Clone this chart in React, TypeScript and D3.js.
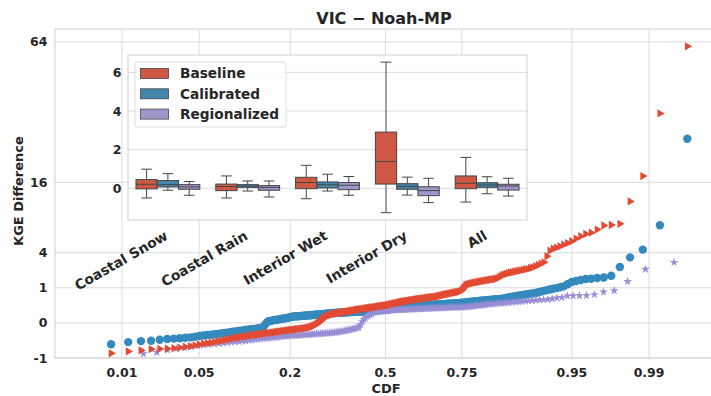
import React from "react";
import * as d3 from "d3";

// ---------- data ----------
const title = "VIC − Noah-MP";
const seriesNames = ["Baseline", "Calibrated", "Regionalized"];
const seriesColors = ["#E24A33", "#348ABD", "#988ED5"];
const boxColors = ["#cf5844", "#4586ac", "#9e97cc"];

const categories = ["Coastal Snow", "Coastal Rain", "Interior Wet", "Interior Dry", "All"];
// [whiskerLow, q1, median, q3, whiskerHigh] per category
const baselineBox = [
  [-0.5, -0.03, 0.21, 0.45, 0.99],
  [-0.5, -0.12, 0.09, 0.22, 0.64],
  [-0.54, -0.02, 0.3, 0.57, 1.19],
  [-1.26, 0.22, 1.39, 2.91, 6.53],
  [-0.71, -0.02, 0.26, 0.64, 1.6],
];
const calibratedBox = [
  [-0.1, 0.07, 0.19, 0.4, 0.76],
  [-0.14, 0.05, 0.12, 0.19, 0.38],
  [-0.14, 0.02, 0.19, 0.33, 0.73],
  [-0.35, -0.05, 0.1, 0.24, 0.58],
  [-0.28, 0.05, 0.17, 0.29, 0.6],
];
const regionalizedBox = [
  [-0.36, -0.05, 0.07, 0.19, 0.35],
  [-0.45, -0.1, 0.05, 0.14, 0.38],
  [-0.36, -0.07, 0.16, 0.3, 0.61],
  [-0.74, -0.38, -0.12, 0.08, 0.52],
  [-0.4, -0.09, 0.12, 0.21, 0.52],
];
const insetTicks = [0, 2, 4, 6];

// sorted KGE differences (empirical CDF)
const baselineValues = [
  -1.8,
  -0.75, -0.66, -0.61, -0.56, -0.55, -0.535, -0.52, -0.5, -0.47, -0.44, -0.41, -0.38,
  -0.35, -0.33, -0.32, -0.295, -0.276, -0.26, -0.24, -0.225, -0.21, -0.195,
  -0.184, -0.174, -0.165, -0.155, -0.147, -0.138, -0.13, -0.123, -0.118, -0.112, -0.106, -0.1, -0.095,
  -0.092, -0.088, -0.083, -0.08, -0.075, -0.072, -0.068, -0.065, -0.06, -0.058, -0.055, -0.051, -0.048, -0.046, -0.044, -0.041, -0.04,
  -0.038, -0.036, -0.033, -0.031, -0.029, -0.027, -0.026, -0.024, -0.022, -0.02, -0.018, -0.016, -0.013, -0.01, -0.007, -0.004,
  -0.002, -0.0002, 0.0002, 0.002, 0.007, 0.013, 0.02, 0.027, 0.034, 0.04, 0.046, 0.051, 0.056, 0.062, 0.066, 0.071,
  0.074, 0.077, 0.08, 0.083, 0.085, 0.088,
  0.091, 0.095, 0.099, 0.103, 0.107, 0.111, 0.115, 0.119, 0.123, 0.127,
  0.131, 0.135, 0.139, 0.143, 0.147, 0.151, 0.155, 0.159, 0.163, 0.167,
  0.171, 0.175, 0.179, 0.183, 0.187, 0.191, 0.195, 0.199, 0.203, 0.207,
  0.212, 0.217, 0.222, 0.227, 0.232, 0.237, 0.241, 0.246, 0.25,
  0.257, 0.265, 0.272, 0.28, 0.287, 0.295, 0.302, 0.31, 0.317, 0.325, 0.332, 0.34, 0.347, 0.355, 0.362, 0.37,
  0.377, 0.384, 0.39, 0.397, 0.404, 0.41, 0.417, 0.424, 0.43, 0.437,
  0.444, 0.451, 0.457, 0.464, 0.471, 0.477, 0.484, 0.491, 0.497, 0.504,
  0.511, 0.518, 0.524, 0.531, 0.538, 0.544, 0.551, 0.558, 0.565,
  0.578, 0.591, 0.604, 0.617, 0.63, 0.643, 0.656, 0.669, 0.682, 0.695, 0.708, 0.721, 0.734, 0.747, 0.76, 0.773, 0.786, 0.8,
  0.86, 0.95, 1.05, 1.15,
  1.19, 1.22, 1.25, 1.27, 1.29, 1.31, 1.33,
  1.35, 1.37, 1.39, 1.41, 1.43, 1.45, 1.47, 1.49, 1.51, 1.53, 1.545, 1.56,
  1.6, 1.68, 1.76, 1.84, 1.9, 1.95, 2.0,
  2.04, 2.08, 2.12, 2.16, 2.2, 2.24, 2.28, 2.32, 2.36, 2.44,
  2.5, 2.6, 2.72, 2.85, 2.97,
  3.6,
  4.23, 4.47, 4.59, 4.75, 4.97, 5.16, 5.4, 5.76, 6.08, 6.42, 6.6,
  7.06, 7.68, 7.76, 7.95, 11.95, 17.47, 35.56, 62.0,
];
const calibratedValues = [
  -1.8, -0.37, -0.3, -0.27, -0.26, -0.23, -0.21, -0.2, -0.19, -0.18, -0.17, -0.155, -0.14,
  -0.13, -0.12, -0.115, -0.106, -0.099, -0.09, -0.083, -0.077, -0.07, -0.062,
  -0.058, -0.054, -0.05, -0.046, -0.042, -0.039, -0.036, -0.032, -0.029, -0.027, -0.024, -0.02, -0.018,
  -0.005, 0, 0.002, 0.003, 0.004, 0.006, 0.007, 0.008, 0.01, 0.012, 0.014, 0.016, 0.018, 0.02, 0.024, 0.027, 0.031,
  0.033, 0.034, 0.035, 0.036, 0.037, 0.039, 0.04, 0.041, 0.043, 0.044,
  0.045, 0.047, 0.048, 0.05, 0.051, 0.053, 0.054, 0.056, 0.057, 0.059,
  0.061, 0.062, 0.064, 0.066, 0.067, 0.069, 0.071, 0.073, 0.075, 0.077,
  0.078, 0.08, 0.081, 0.082, 0.083, 0.084, 0.085, 0.087, 0.088, 0.089,
  0.09, 0.091, 0.093, 0.094, 0.095, 0.096, 0.097, 0.099, 0.1, 0.101, 0.102, 0.103, 0.104,
  0.105, 0.107, 0.108, 0.11, 0.111, 0.113, 0.114, 0.116, 0.117, 0.119, 0.12, 0.122,
  0.123, 0.125, 0.126, 0.128, 0.129, 0.131, 0.132, 0.134, 0.135, 0.137, 0.138, 0.14,
  0.144, 0.148, 0.152, 0.156, 0.16, 0.164, 0.168, 0.172, 0.176, 0.18, 0.184, 0.188, 0.192, 0.196, 0.2,
  0.202, 0.205, 0.207, 0.21, 0.212, 0.215, 0.217, 0.22, 0.222, 0.225,
  0.227, 0.229, 0.232, 0.234, 0.237, 0.239, 0.242, 0.244, 0.247, 0.249,
  0.252, 0.254, 0.257, 0.259, 0.261, 0.264, 0.266, 0.269, 0.271, 0.274,
  0.276, 0.279, 0.281, 0.284, 0.286, 0.288, 0.291, 0.293, 0.296, 0.298,
  0.301, 0.303, 0.306, 0.308, 0.311, 0.313, 0.315, 0.318, 0.32,
  0.326, 0.331, 0.337, 0.343, 0.349, 0.355, 0.36, 0.366, 0.372, 0.378,
  0.384, 0.389, 0.395, 0.401, 0.407, 0.412, 0.418, 0.424, 0.43, 0.436,
  0.441, 0.447, 0.453, 0.459, 0.464, 0.47,
  0.487, 0.503, 0.52, 0.537, 0.553, 0.57, 0.587, 0.603, 0.62, 0.637, 0.653, 0.67, 0.687, 0.703, 0.72,
  0.757, 0.794, 0.831, 0.868, 0.905, 0.942, 0.98,
  1.03, 1.08, 1.21, 1.35, 1.42, 1.49, 1.56, 1.58, 1.63, 1.67, 1.8, 2.53, 3.48, 4.35, 7.73, 27.5,
];
const regionalizedValues = [
  -1.9, -1.7,
  -0.77, -0.71, -0.6, -0.54, -0.49, -0.46, -0.42, -0.395,
  -0.38, -0.36, -0.343, -0.327, -0.31,
  -0.3, -0.29, -0.28, -0.267, -0.256,
  -0.245, -0.236, -0.225, -0.214, -0.204,
  -0.196, -0.189, -0.184, -0.176, -0.169, -0.165, -0.158, -0.151, -0.144, -0.138,
  -0.135, -0.132, -0.13, -0.127, -0.124, -0.122, -0.119, -0.116, -0.114, -0.111,
  -0.108, -0.106, -0.103, -0.101, -0.098, -0.096, -0.093, -0.091, -0.089, -0.086,
  -0.084, -0.082, -0.079, -0.077, -0.075,
  -0.071, -0.067, -0.063, -0.059, -0.055, -0.051, -0.047, -0.043, -0.039, -0.035, -0.031, -0.027, -0.023, -0.02, -0.017,
  -0.003, 0.001, 0.01, 0.02, 0.034, 0.046, 0.052, 0.066, 0.082, 0.099, 0.104,
  0.108, 0.11, 0.112, 0.115, 0.118, 0.12, 0.122, 0.125, 0.128, 0.13, 0.133, 0.135, 0.137, 0.139,
  0.141, 0.142, 0.144, 0.146, 0.147, 0.149, 0.151, 0.152, 0.154, 0.156,
  0.157, 0.159, 0.161, 0.162, 0.164, 0.166, 0.167, 0.169, 0.171, 0.172,
  0.174, 0.176, 0.177, 0.179, 0.181, 0.182, 0.184, 0.186, 0.187, 0.189,
  0.191, 0.192, 0.194, 0.196, 0.197, 0.199, 0.2, 0.202, 0.203, 0.205,
  0.212, 0.219, 0.226, 0.233, 0.24, 0.247, 0.253, 0.26, 0.267, 0.274,
  0.281, 0.288, 0.295, 0.302, 0.308, 0.315, 0.322, 0.329, 0.336, 0.343,
  0.354, 0.364, 0.375, 0.386, 0.397, 0.407, 0.418, 0.429, 0.44, 0.45,
  0.47, 0.5, 0.52, 0.59, 0.595, 0.6, 0.61, 0.65, 0.77, 0.84, 1.393, 2.33, 2.97,
];

const xTicks = [0.01, 0.05, 0.2, 0.5, 0.75, 0.95, 0.99];
const yTicks = [-1, 0, 1, 4, 16, 64];

// ---------- helpers ----------
function probit(p: number): number {
  const a = [-3.969683028665376e1, 2.209460984245205e2, -2.759285104469687e2, 1.38357751867269e2, -3.066479806614716e1, 2.506628277459239];
  const b = [-5.447609879822406e1, 1.615858368580409e2, -1.556989798598866e2, 6.680131188771972e1, -1.328068155288572e1];
  const c = [-7.784894002430293e-3, -3.223964580411365e-1, -2.400758277161838, -2.549732539343734, 4.374664621516628, 2.938163982698783];
  const d = [7.784695709041462e-3, 3.224671290700398e-1, 2.445134137142996, 3.754408661907416];
  const pl = 0.02425;
  if (p < pl) {
    const q = Math.sqrt(-2 * Math.log(p));
    return (((((c[0] * q + c[1]) * q + c[2]) * q + c[3]) * q + c[4]) * q + c[5]) / ((((d[0] * q + d[1]) * q + d[2]) * q + d[3]) * q + 1);
  }
  if (p <= 1 - pl) {
    const q = p - 0.5, r = q * q;
    return ((((((a[0] * r + a[1]) * r + a[2]) * r + a[3]) * r + a[4]) * r + a[5]) * q) / (((((b[0] * r + b[1]) * r + b[2]) * r + b[3]) * r + b[4]) * r + 1);
  }
  const q = Math.sqrt(-2 * Math.log(1 - p));
  return -(((((c[0] * q + c[1]) * q + c[2]) * q + c[3]) * q + c[4]) * q + c[5]) / ((((d[0] * q + d[1]) * q + d[2]) * q + d[3]) * q + 1);
}

const W = 711, H = 396;
const P = { left: 55, right: 716, top: 29, bottom: 358 };
const IN = { left: 128, right: 527, top: 55, bottom: 220 };
const FONT = "DejaVu Sans, sans-serif";
const TXT = "#262626";
const GRID = "#dcdcdc";
const EDGE = "#cfcfcf";

const zScale = d3.scaleLinear().domain([-2.917, 2.917]).range([P.left, P.right]);
const x = (p: number) => zScale(probit(p));
const y = d3.scalePow().exponent(0.5).domain([-1, 70]).range([P.bottom, P.top]);

const iy = d3.scaleLinear().domain([-1.64, 6.9]).range([IN.bottom, IN.top]);
const ix = d3.scaleBand().domain(categories).range([IN.left, IN.right]).padding(0);

const triPath = d3.symbol(d3.symbolTriangle, 30)() as string;
const starPath = d3.symbol(d3.symbolStar, 24)() as string;

export default function App() {
  const series = [
    { values: calibratedValues, color: seriesColors[1], kind: "circle" },
    { values: regionalizedValues, color: seriesColors[2], kind: "star" },
    { values: baselineValues, color: seriesColors[0], kind: "tri" },
  ];
  const boxes = [baselineBox, calibratedBox, regionalizedBox];
  const bw = ix.bandwidth();
  const boxW = (bw * 0.8) / 3;

  return (
    <svg width={W} height={H} style={{ position: "absolute", left: 0, top: 0, background: "#fff" }} fontFamily={FONT}>
      <defs>
        <clipPath id="plotclip">
          <rect x={P.left} y={P.top} width={P.right - P.left} height={P.bottom - P.top} />
        </clipPath>
      </defs>
      <rect x={0} y={0} width={W} height={H} fill="#fff" />
      {/* grid */}
      {yTicks.map((t) => (
        <line key={"gy" + t} x1={P.left} x2={P.right} y1={y(t)} y2={y(t)} stroke={GRID} strokeWidth={1} />
      ))}
      {xTicks.map((t) => (
        <line key={"gx" + t} x1={x(t)} x2={x(t)} y1={P.top} y2={P.bottom} stroke={GRID} strokeWidth={1} />
      ))}
      <rect x={P.left} y={P.top} width={P.right - P.left} height={P.bottom - P.top} fill="none" stroke={EDGE} strokeWidth={1} />

      {/* scatter */}
      <g clipPath="url(#plotclip)">
        {series.map((s, si) => {
          const n = s.values.length;
          return (
            <g key={si} fill={s.color}>
              {s.values.map((v, i) => {
                const px = x((i + 1) / (n + 1));
                const py = y(v);
                if (s.kind === "circle") return <circle key={i} cx={px} cy={py} r={4.2} />;
                if (s.kind === "star") return <path key={i} d={starPath} transform={`translate(${px},${py})`} />;
                return <path key={i} d={triPath} transform={`translate(${px},${py}) rotate(90)`} />;
              })}
            </g>
          );
        })}
      </g>

      {/* main axis labels */}
      {yTicks.map((t) => (
        <text key={"yt" + t} x={47.5} y={y(t)} dy="0.36em" textAnchor="end" fontSize={12.5} fontWeight="bold" fill={TXT}>
          {t}
        </text>
      ))}
      {xTicks.map((t) => (
        <text key={"xt" + t} x={x(t)} y={376.5} textAnchor="middle" fontSize={12.5} fontWeight="bold" fill={TXT}>
          {t}
        </text>
      ))}
      <text x={384} y={24} textAnchor="middle" fontSize={16} fontWeight="bold" fill={TXT}>
        {title}
      </text>
      <text transform={`translate(22.5,191) rotate(-90)`} textAnchor="middle" fontSize={13} fontWeight="bold" fill={TXT}>
        KGE Difference
      </text>
      <text x={386} y={393} textAnchor="middle" fontSize={13} fontWeight="bold" fill={TXT}>
        CDF
      </text>

      {/* inset */}
      <rect x={IN.left} y={IN.top} width={IN.right - IN.left} height={IN.bottom - IN.top} fill="#fff" />
      {insetTicks.map((t) => (
        <line key={"igy" + t} x1={IN.left} x2={IN.right} y1={iy(t)} y2={iy(t)} stroke={GRID} strokeWidth={1} />
      ))}
      <rect x={IN.left} y={IN.top} width={IN.right - IN.left} height={IN.bottom - IN.top} fill="none" stroke={EDGE} strokeWidth={1} />
      {insetTicks.map((t) => (
        <text key={"iyt" + t} x={121.5} y={iy(t)} dy="0.36em" textAnchor="end" fontSize={12.5} fontWeight="bold" fill={TXT}>
          {t}
        </text>
      ))}
      {categories.map((c, ci) => {
        const cx = (ix(c) as number) + bw / 2;
        return (
          <g key={c}>
            {boxes.map((b, si) => {
              const [lo, q1, med, q3, hi] = b[ci];
              const bx = cx + (si - 1) * boxW;
              const capW = boxW / 2;
              const stroke = "#454545";
              return (
                <g key={si} stroke={stroke} strokeWidth={1}>
                  <line x1={bx} x2={bx} y1={iy(hi)} y2={iy(q3)} />
                  <line x1={bx} x2={bx} y1={iy(q1)} y2={iy(lo)} />
                  <line x1={bx - capW / 2} x2={bx + capW / 2} y1={iy(hi)} y2={iy(hi)} />
                  <line x1={bx - capW / 2} x2={bx + capW / 2} y1={iy(lo)} y2={iy(lo)} />
                  <rect x={bx - boxW / 2} y={iy(q3)} width={boxW} height={iy(q1) - iy(q3)} fill={boxColors[si]} />
                  <line x1={bx - boxW / 2} x2={bx + boxW / 2} y1={iy(med)} y2={iy(med)} />
                </g>
              );
            })}
            <text
              transform={`translate(${cx + 1},238.5) rotate(-30)`}
              textAnchor="end"
              fontSize={13.8}
              fontWeight="bold"
              fill={TXT}
            >
              {c}
            </text>
          </g>
        );
      })}

      {/* legend */}
      <rect x={135} y={62} width={151} height={65} rx={3} fill="#fff" fillOpacity={0.85} stroke="#dddddd" />
      {seriesNames.map((nm, i) => (
        <g key={nm}>
          <rect x={140.5} y={68.5 + i * 20.3} width={28} height={10} fill={boxColors[i]} stroke="#454545" strokeWidth={0.8} />
          <text x={180} y={73.5 + i * 20.3} dy="0.36em" fontSize={13.7} fontWeight="bold" fill={TXT}>
            {nm}
          </text>
        </g>
      ))}
    </svg>
  );
}
